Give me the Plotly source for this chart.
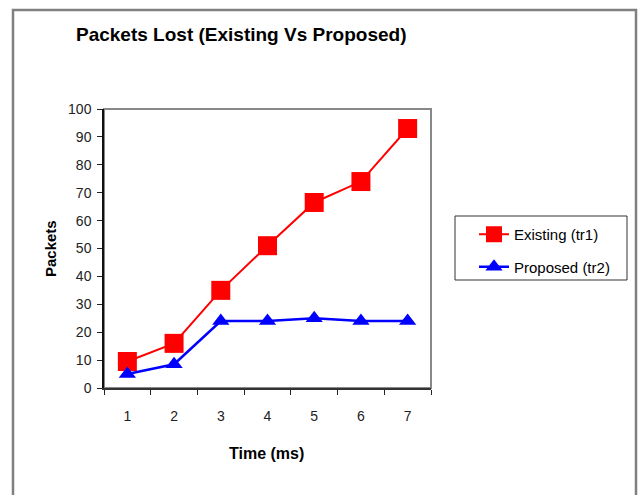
import plotly.graph_objects as go

# Packets lost per time step for the two schemes
time_ms = ["1", "2", "3", "4", "5", "6", "7"]
existing_tr1 = [9.5, 16, 35, 51, 66.5, 74, 93]
proposed_tr2 = [5, 8.5, 24, 24, 25, 24, 24]
y_ticks = list(range(0, 101, 10))

W, H = 643, 495
L, R, T, B = 104, 212, 109, 107
pw, ph = W - L - R, H - T - B


def px_x(x):
    return (x - L) / pw


def px_y(y):
    return (H - B - y) / ph


FONT = "Liberation Sans, Arial, sans-serif"

fig = go.Figure()
fig.add_trace(go.Scatter(
    x=time_ms, y=existing_tr1, name="Existing (tr1)", mode="lines+markers",
    line=dict(color="#ff0000", width=2),
    marker=dict(symbol="square", size=19, color="#ff0000"),
    legendgroup="a",
))
fig.add_trace(go.Scatter(
    x=time_ms, y=proposed_tr2, name="Proposed (tr2)", mode="lines+markers",
    line=dict(color="#0000ff", width=2.5),
    marker=dict(symbol="triangle-up", size=15, color="#0000ff"),
    legendgroup="b",
))

fig.update_layout(
    width=W, height=H,
    margin=dict(l=L, r=R, t=T, b=B),
    paper_bgcolor="white", plot_bgcolor="white",
    font=dict(family=FONT, size=14, color="#111"),
    showlegend=True,
    legend=dict(
        x=px_x(474), y=px_y(218), xanchor="left", yanchor="top",
        bgcolor="rgba(0,0,0,0)", borderwidth=0,
        font=dict(family=FONT, size=15, color="#000"),
        tracegroupgap=10, itemsizing="trace",
    ),
    annotations=[
        dict(text="<b>Packets Lost (Existing Vs Proposed)</b>", xref="paper", yref="paper",
             x=px_x(74), y=px_y(35), xanchor="left", yanchor="middle", showarrow=False,
             font=dict(family=FONT, size=19, color="#000")),
        dict(text="<b>Packets</b>", xref="paper", yref="paper",
             x=px_x(50), y=px_y(249), xanchor="center", yanchor="middle", showarrow=False,
             textangle=-90, font=dict(family=FONT, size=15, color="#000")),
        dict(text="<b>Time (ms)</b>", xref="paper", yref="paper",
             x=px_x(266), y=px_y(453), xanchor="center", yanchor="middle", showarrow=False,
             font=dict(family=FONT, size=16, color="#000")),
    ],
    shapes=[
        # outer chart frame
        dict(type="rect", xref="paper", yref="paper",
             x0=px_x(13), x1=px_x(636), y0=px_y(10), y1=px_y(520),
             line=dict(color="#808080", width=2.5), layer="below"),
        # plot area border
        dict(type="rect", xref="paper", yref="paper",
             x0=0, x1=1, y0=0, y1=1,
             line=dict(color="#888888", width=2), layer="below"),
        # legend box
        dict(type="rect", xref="paper", yref="paper",
             x0=px_x(455), x1=px_x(627), y0=px_y(216), y1=px_y(280),
             line=dict(color="#333333", width=1), layer="below"),
    ],
)

fig.update_xaxes(
    type="category", range=[-0.5, 6.5], tickson="boundaries",
    ticks="outside", ticklen=5, tickcolor="#222", tickwidth=1,
    showline=True, linecolor="#333", linewidth=2,
    showgrid=False, zeroline=False, ticklabelstandoff=14,
    tickfont=dict(family=FONT, size=14, color="#222"),
)
fig.update_yaxes(
    range=[0, 100], tickvals=y_ticks,
    ticks="outside", ticklen=5, tickcolor="#222", tickwidth=1,
    showline=True, linecolor="#111", linewidth=1.5,
    showgrid=False, zeroline=False, ticklabelstandoff=3,
    tickfont=dict(family=FONT, size=14, color="#222"),
)

fig.write_html("out.html")
